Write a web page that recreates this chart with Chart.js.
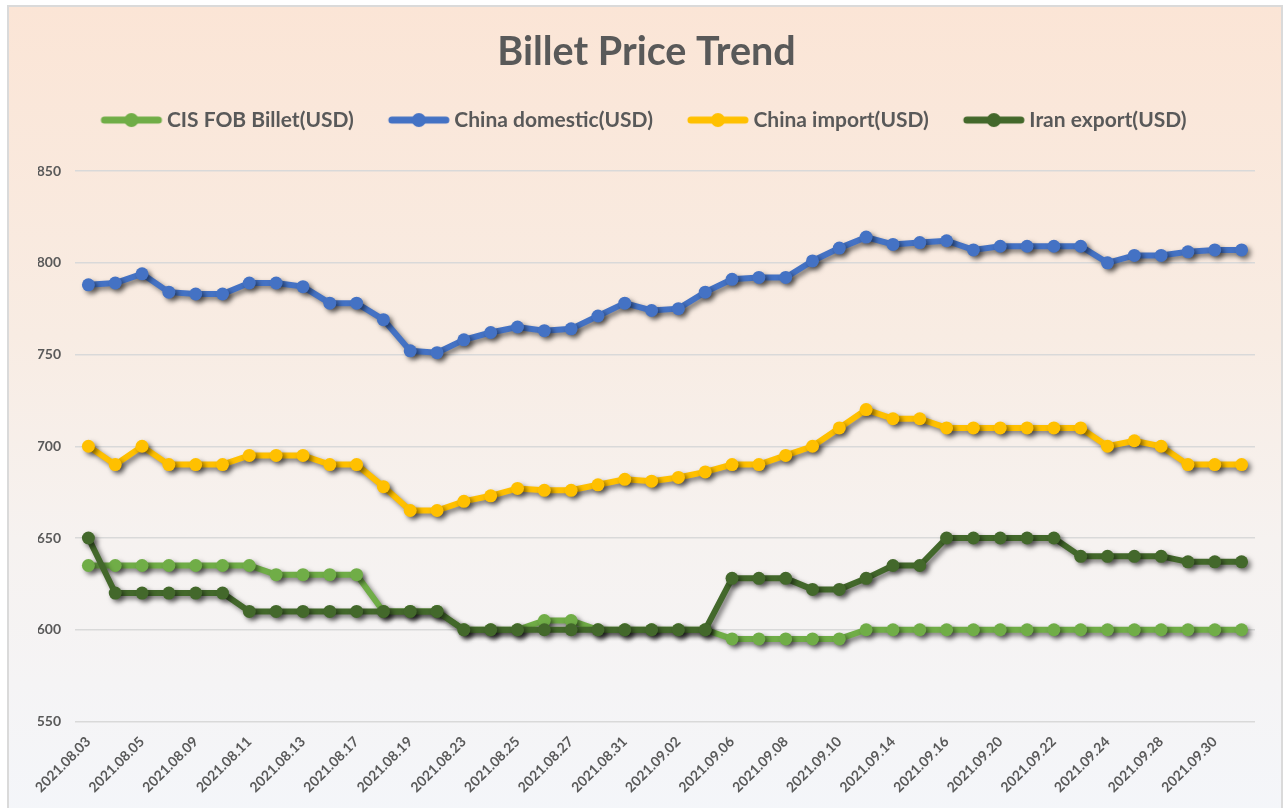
<!DOCTYPE html>
<html>
<head>
<meta charset="utf-8">
<script src="https://cdn.jsdelivr.net/npm/chart.js@4.4.0/dist/chart.umd.min.js"></script>
<style>
  html, body { margin: 0; padding: 0; background: #ffffff; }
  #card {
    position: absolute; left: 7px; top: 5px; width: 1272px; height: 820px;
    border: 2px solid #dadada;
    background: linear-gradient(to bottom, #fbe5d6 0%, #f8ece3 40%, #f6f2f0 65%, #f4f6fa 100%);
  }
  #wrap { position: absolute; left: 0; top: 0; width: 1287px; height: 808px; }
</style>
</head>
<body>
<div id="card"></div>
<div id="wrap"><canvas id="graphiquePrix" width="1287" height="808"></canvas></div>
<script>
// dates (jours ouvrés)
const dates = [
  '2021.08.03', '2021.08.04', '2021.08.05', '2021.08.06', '2021.08.09', '2021.08.10',
  '2021.08.11', '2021.08.12', '2021.08.13', '2021.08.16', '2021.08.17', '2021.08.18',
  '2021.08.19', '2021.08.20', '2021.08.23', '2021.08.24', '2021.08.25', '2021.08.26',
  '2021.08.27', '2021.08.30', '2021.08.31', '2021.09.01', '2021.09.02', '2021.09.03',
  '2021.09.06', '2021.09.07', '2021.09.08', '2021.09.09', '2021.09.10', '2021.09.13',
  '2021.09.14', '2021.09.15', '2021.09.16', '2021.09.17', '2021.09.20', '2021.09.21',
  '2021.09.22', '2021.09.23', '2021.09.24', '2021.09.27', '2021.09.28', '2021.09.29',
  '2021.09.30', '2021.10.01'
];

const cisFob = [
  635, 635, 635, 635, 635, 635, 635, 630, 630, 630, 630, 610,
  610, 610, 600, 600, 600, 605, 605, 600, 600, 600, 600, 600,
  595, 595, 595, 595, 595, 600, 600, 600, 600, 600, 600, 600,
  600, 600, 600, 600, 600, 600, 600, 600
];

const chinaDomestic = [
  788, 789, 794, 784, 783, 783, 789, 789, 787, 778, 778, 769,
  752, 751, 758, 762, 765, 763, 764, 771, 778, 774, 775, 784,
  791, 792, 792, 801, 808, 814, 810, 811, 812, 807, 809, 809,
  809, 809, 800, 804, 804, 806, 807, 807
];

const chinaImport = [
  700, 690, 700, 690, 690, 690, 695, 695, 695, 690, 690, 678,
  665, 665, 670, 673, 677, 676, 676, 679, 682, 681, 683, 686,
  690, 690, 695, 700, 710, 720, 715, 715, 710, 710, 710, 710,
  710, 710, 700, 703, 700, 690, 690, 690
];

const iranExport = [
  650, 620, 620, 620, 620, 620, 610, 610, 610, 610, 610, 610,
  610, 610, 600, 600, 600, 600, 600, 600, 600, 600, 600, 600,
  628, 628, 628, 622, 622, 628, 635, 635, 650, 650, 650, 650,
  650, 640, 640, 640, 640, 637, 637, 637
];

const seriesNames = ['CIS FOB Billet(USD)', 'China domestic(USD)', 'China import(USD)', 'Iran export(USD)'];
const couleurs = ['#70ad47', '#4472c4', '#ffc000', '#43682b'];
const texte = '#595959';

// petit marqueur de légende : trait + rond
function marqueur(couleur) {
  const c = document.createElement('canvas');
  c.width = 66; c.height = 16;
  const g = c.getContext('2d');
  g.strokeStyle = couleur; g.lineWidth = 7; g.lineCap = 'round';
  g.beginPath(); g.moveTo(6, 8); g.lineTo(60, 8); g.stroke();
  g.fillStyle = couleur;
  g.beginPath(); g.arc(33, 8, 7, 0, Math.PI * 2); g.fill();
  return c;
}

// ombre portée sous les courbes
const ombre = {
  id: 'ombre',
  beforeDatasetsDraw(chart) {
    const c = chart.ctx;
    c.save();
    c.shadowColor = 'rgba(0, 0, 0, 0.5)';
    c.shadowBlur = 5;
    c.shadowOffsetX = 3;
    c.shadowOffsetY = 3;
  },
  afterDatasetsDraw(chart) {
    chart.ctx.restore();
  }
};

// espace supplémentaire sous la légende
const espaceLegende = {
  id: 'espaceLegende',
  beforeLayout(chart) {
    const lg = chart.legend;
    if (lg && !lg._patched) {
      const fit = lg.fit;
      lg.fit = function () { fit.call(this); this.height += 30.5; };
      lg._patched = true;
    }
  }
};

function serie(i, valeurs, ordre) {
  return {
    label: seriesNames[i],
    data: valeurs,
    borderColor: couleurs[i],
    backgroundColor: couleurs[i],
    borderWidth: 6,
    pointRadius: 6.5,
    pointHoverRadius: 6.5,
    pointBorderWidth: 0,
    tension: 0,
    order: ordre
  };
}

const ctx = document.getElementById('graphiquePrix').getContext('2d');
const chart = new Chart(ctx, {
  type: 'line',
  data: {
    labels: dates,
    datasets: [
      serie(0, cisFob, 4),
      serie(1, chinaDomestic, 3),
      serie(2, chinaImport, 2),
      serie(3, iranExport, 1)
    ]
  },
  options: {
    responsive: false,
    animation: false,
    devicePixelRatio: 1,
    layout: { padding: { left: 38, right: 32, top: 0, bottom: 8 } },
    plugins: {
      title: {
        display: true,
        text: 'Billet Price Trend',
        color: texte,
        font: { family: 'Lato', size: 39.5, weight: 'bold', lineHeight: 0.9 },
        padding: { top: 34, bottom: 0 }
      },
      legend: {
        display: true,
        labels: {
          color: texte,
          font: { family: 'Lato', size: 21, weight: 'bold' },
          usePointStyle: true,
          pointStyleWidth: 50,
          padding: 40,
          sort: (a, b) => a.datasetIndex - b.datasetIndex,
          generateLabels(chart) {
            const items = Chart.defaults.plugins.legend.labels.generateLabels(chart);
            items.forEach(it => { it.pointStyle = marqueur(couleurs[it.datasetIndex]); });
            return items;
          }
        }
      },
      tooltip: { enabled: false }
    },
    scales: {
      x: {
        offset: true,
        afterFit(scale) { scale.paddingLeft = 0; scale.paddingRight = 0; },
        grid: { display: false },
        border: { display: false },
        ticks: {
          autoSkip: false,
          maxRotation: 45,
          minRotation: 45,
          padding: 4,
          color: texte,
          font: { family: 'Lato', size: 14, weight: 'bold' },
          callback: function (val, idx) {
            return idx % 2 === 0 ? this.getLabelForValue(val) : null;
          }
        }
      },
      y: {
        min: 550,
        max: 850,
        afterFit(scale) { scale.width = 37; },
        grid: { color: '#d9d9d9', lineWidth: 1.5, drawTicks: false },
        border: { display: false },
        ticks: {
          stepSize: 50,
          padding: 14,
          color: texte,
          font: { family: 'Lato', size: 14, weight: 'bold' }
        }
      }
    }
  },
  plugins: [ombre, espaceLegende]
});
</script>
</body>
</html>
